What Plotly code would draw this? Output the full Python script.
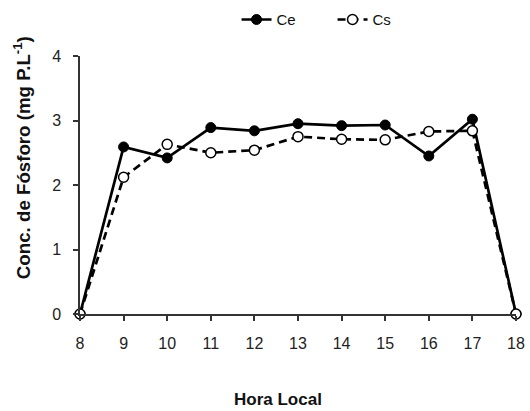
import plotly.graph_objects as go

# Hourly phosphorus concentration, inflow (Ce) and outflow (Cs)
hours = [8, 9, 10, 11, 12, 13, 14, 15, 16, 17, 18]
ce = [0, 2.59, 2.42, 2.89, 2.84, 2.95, 2.92, 2.93, 2.45, 3.02, 0]
cs = [0, 2.12, 2.63, 2.50, 2.54, 2.75, 2.71, 2.70, 2.83, 2.84, 0]
x_ticks = list(range(8, 19))
y_ticks = [0, 1, 2, 3, 4]

FONT = "Liberation Sans, Arial, sans-serif"

fig = go.Figure()
fig.add_trace(go.Scatter(
    x=hours, y=ce, name="Ce", mode="lines+markers",
    line=dict(color="black", width=2.7),
    marker=dict(symbol="circle", size=10, color="black", line=dict(color="black", width=1)),
    cliponaxis=False,
))
fig.add_trace(go.Scatter(
    x=hours, y=cs, name="Cs", mode="lines+markers",
    line=dict(color="black", width=2.7, dash="8px,5px"),
    marker=dict(symbol="circle", size=10, color="white", line=dict(color="black", width=1.5)),
    cliponaxis=False,
))

axis_common = dict(
    showgrid=False, zeroline=False, showline=True, linecolor="#333", linewidth=1.5,
    ticks="outside", ticklen=5, tickwidth=1.5, tickcolor="#333",
    tickfont=dict(family=FONT, size=16, color="#222"),
)

fig.update_xaxes(range=[8, 18], tickvals=x_ticks, ticktext=[str(v) for v in x_ticks],
                 ticklabelstandoff=9, **axis_common)
fig.update_yaxes(range=[0, 4], tickvals=y_ticks, ticktext=[str(v) for v in y_ticks],
                 ticklabelstandoff=9, **axis_common)

fig.add_annotation(
    text="<b>Conc. de Fósforo (mg P.L<sup>-1</sup>)</b>", textangle=-90,
    xref="paper", yref="paper", x=-0.1325, y=0.605, xanchor="center", yanchor="middle",
    showarrow=False, font=dict(family=FONT, size=18.7, color="#111"),
)
fig.add_annotation(
    text="<b>Hora Local</b>",
    xref="paper", yref="paper", x=0.454, y=-0.333, xanchor="center", yanchor="middle",
    showarrow=False, font=dict(family=FONT, size=17, color="#111"),
)

fig.update_layout(
    width=530, height=411,
    margin=dict(l=80, r=14, t=56, b=97, autoexpand=False),
    paper_bgcolor="white", plot_bgcolor="white",
    showlegend=True,
    legend=dict(
        orientation="h", x=0.359, y=0.952, xanchor="left", yanchor="middle",
        yref="container",
        font=dict(family=FONT, size=15, color="#111"),
        bgcolor="rgba(0,0,0,0)", entrywidth=51, entrywidthmode="pixels",
    ),
)

fig.write_html("out.html")
